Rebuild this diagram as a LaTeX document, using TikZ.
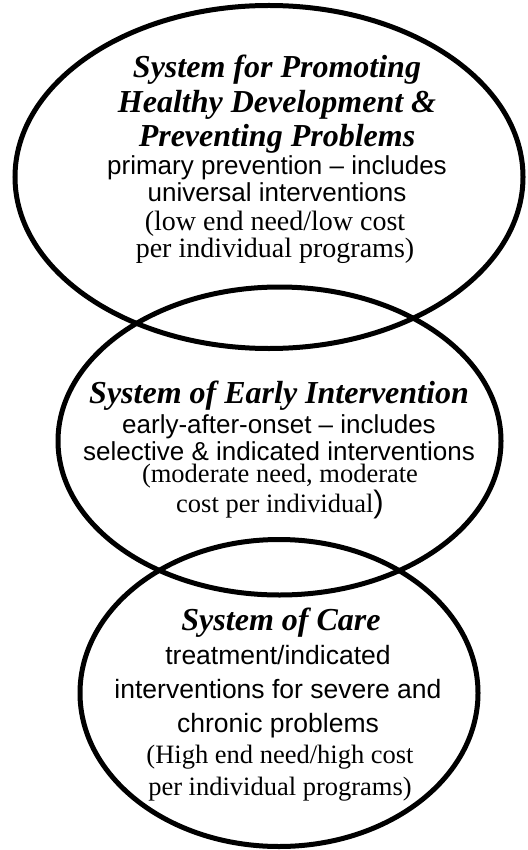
\documentclass[tikz,border=0pt]{standalone}
\usepackage{fontspec}
\setmainfont{Liberation Serif}
\setsansfont{Liberation Sans}
\usetikzlibrary{shapes.geometric,positioning}
\tikzset{
  ring/.style={draw, ellipse, line width=5pt, inner sep=0pt},
  headline/.style={align=center, inner sep=0pt, anchor=base,
    font=\fontsize{32}{34.5}\selectfont\bfseries\itshape},
  kindline/.style={align=center, inner sep=0pt, anchor=base,
    font=\fontsize{26}{27}\selectfont\sffamily},
  costline/.style={align=center, inner sep=0pt, anchor=base,
    font=\fontsize{28}{27}\selectfont},
}
\begin{document}
\begin{tikzpicture}[x=1pt,y=-1pt]
\useasboundingbox (0,0) rectangle (527,850);
% the three systems
\node[ring, minimum width=508pt, minimum height=343pt] (promote) at (269,177) {};
\node[ring, minimum width=443pt, minimum height=308pt] (early) at (279.5,441) {};
\node[ring, minimum width=398pt, minimum height=307pt] (care) at (279,693) {};
% promoting (base = last line)
\node[headline] (promotehead) at (277,147) {System for Promoting\\Healthy Development \&\\Preventing Problems};
\node[kindline] (promotekind) at (277,202) {primary prevention – includes\\universal interventions};
\node[costline] (promotecost) at (275,257) {(low end need/low cost\\per individual programs)};
% early intervention
\node[headline] (earlyhead) at (279,403) {System of Early Intervention};
\node[kindline] (earlykind) at (279,460) {early-after-onset – includes\\selective \& indicated interventions};
\node[costline, font=\fontsize{26.5}{27}\selectfont] (earlycost) at (280,512) {(moderate need, moderate\\cost per individual{\fontsize{31}{27}\selectfont\sffamily)}};
% care
\node[headline] (carehead) at (281,630) {System of Care};
\node[kindline, font=\fontsize{26.5}{34}\selectfont\sffamily] (carekind) at (278,732) {treatment/indicated\\interventions for severe and\\chronic problems};
\node[costline, font=\fontsize{26.5}{32}\selectfont] (carecost) at (280,795) {(High end need/high cost\\per individual programs)};
\end{tikzpicture}
\end{document}
